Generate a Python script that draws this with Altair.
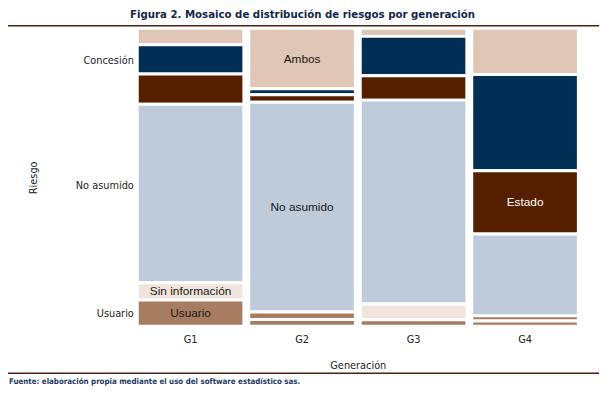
import altair as alt
import pandas as pd

# ---- data (% of each generation) ----
generations = ["G1", "G2", "G3", "G4"]
categories = ["Ambos", "Concesión", "Estado", "No asumido", "Sin información", "Otro", "Usuario"]
g1 = [5.5, 9.8, 10.2, 59.9, 5.8, 0.0, 8.8]
g2 = [20.3, 2.0, 2.5, 70.4, 0.0, 2.5, 2.3]
g3 = [2.7, 13.2, 8.2, 68.4, 5.3, 0.0, 2.2]
g4 = [15.5, 32.3, 21.2, 27.5, 0.0, 1.7, 1.8]
series = [g1, g2, g3, g4]

colors = ["#dfc6b6", "#002e55", "#561f00", "#bfcadb", "#f0e4dc", "#a87c60", "#a87c60"]

labeled = [("G2", "Ambos"), ("G2", "No asumido"), ("G4", "Estado"),
           ("G1", "Sin información"), ("G1", "Usuario")]

y_tick_values = [0.107, 0.527, 0.957]
y_tick_labels = ["Concesión", "No asumido", "Usuario"]

title_text = "Figura 2. Mosaico de distribución de riesgos por generación"
source_text = "Fuente: elaboración propia mediante el uso del software estadístico sas."

# ---- build tile table ----
rows = []
for g, vals in zip(generations, series):
    tot = sum(vals)
    acc = 0.0
    for c, v in zip(categories, vals):
        s = v / tot
        if s > 0:
            rows.append({"gen": g, "cat": c, "y0": acc, "y1": acc + s,
                         "mid": acc + s / 2,
                         "label": c if (g, c) in labeled else ""})
        acc += s
df = pd.DataFrame(rows)

FONT = "'Liberation Sans Narrow', 'DejaVu Sans Condensed', 'DejaVu Sans', sans-serif"
TFONT = "'Liberation Sans', Arial, sans-serif"

label_expr = ""
for v, t in zip(y_tick_values, y_tick_labels):
    label_expr += f"abs(datum.value - {v}) < 0.001 ? '{t}' : "
label_expr += "''"

xscale = alt.Scale(domain=generations, paddingInner=0.044, paddingOuter=0)
yscale = alt.Scale(domain=[0, 1], reverse=True, nice=False, zero=False)

tiles = alt.Chart(df).mark_rect(stroke="white", strokeWidth=3).encode(
    x=alt.X("gen:N", scale=xscale, sort=generations,
            axis=alt.Axis(title="Generación", labelAngle=0, domain=False, ticks=False,
                          labelPadding=7, titlePadding=16, labelFont=FONT, titleFont=FONT,
                          labelFontSize=11, titleFontSize=11, titleFontWeight="normal",
                          labelColor="#222", titleColor="#222")),
    y=alt.Y("y0:Q", scale=yscale,
            axis=alt.Axis(title="Riesgo", values=y_tick_values, labelExpr=label_expr,
                          domain=False, ticks=False, grid=False, labelPadding=4,
                          labelFont=FONT, titleFont=FONT, labelFontSize=11,
                          titleFontSize=11, titleFontWeight="normal",
                          labelColor="#222", titleColor="#222",
                          titleX=-100)),
    y2="y1:Q",
    color=alt.Color("cat:N", scale=alt.Scale(domain=categories, range=colors), legend=None),
)

texts = alt.Chart(df).transform_filter(alt.datum.label != "").mark_text(
    font=TFONT, fontSize=12, baseline="middle", align="center"
).encode(
    x=alt.X("gen:N", scale=xscale, sort=generations),
    y=alt.Y("mid:Q", scale=yscale),
    text="label:N",
    color=alt.condition(alt.datum.cat == "Estado", alt.value("white"), alt.value("#1a1a1a")),
)

one = pd.DataFrame({"a": [0]})
rule_top = alt.Chart(one).mark_rule(color="#4a2311", strokeWidth=1.5).encode(
    x=alt.value(-131), x2=alt.value(468), y=alt.value(-2.5))
rule_bot = alt.Chart(one).mark_rule(color="#4a2311", strokeWidth=1.5).encode(
    x=alt.value(-131), x2=alt.value(468), y=alt.value(349.5))
source = alt.Chart(one).mark_text(
    align="left", baseline="middle", font=FONT, fontSize=8, fontWeight="bold",
    color="#1f3a66").encode(x=alt.value(-130), y=alt.value(358), text=alt.value(source_text))

chart = alt.layer(tiles, texts, rule_top, rule_bot, source).properties(
    width=447, height=302,
    title=alt.TitleParams(title_text, anchor="middle", dx=-56, offset=5, font=FONT,
                          fontSize=11.5, fontWeight="bold", color="#14284a"),
    padding={"left": 131, "top": 18, "right": 26, "bottom": 66},
    autosize=alt.AutoSizeParams(type="none"),
    background="white",
).configure_view(stroke=None)

chart.save("out.html", embed_options={"renderer": "svg", "actions": False})
